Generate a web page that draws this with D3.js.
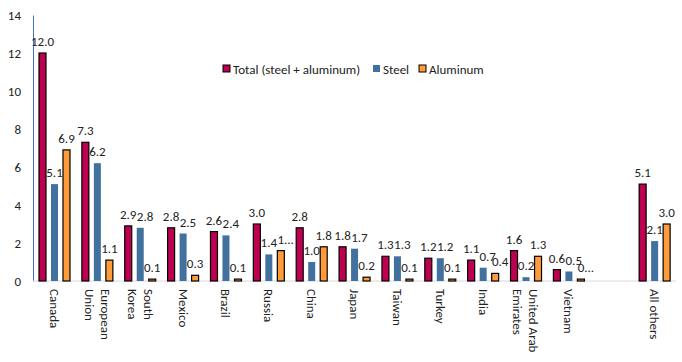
<!DOCTYPE html>
<html>
<head>
<meta charset="utf-8">
<script src="https://cdn.jsdelivr.net/npm/d3@7"></script>
<style>
  body { margin: 0; background: #fff; }
  text { font-family: Carlito, Lato, "Liberation Sans", sans-serif; fill: #222; }
</style>
</head>
<body>
<div id="chart"></div>
<script>
const W = 682, H = 362
const MARGIN = { TOP: 15, BOTTOM: 81, LEFT: 33, RIGHT: 6 }
const FS = 13

// categories (the blank one is the empty slot before "All others")
const categories = ['Canada', 'European Union', 'South Korea', 'Mexico', 'Brazil', 'Russia',
    'China', 'Japan', 'Taiwan', 'Turkey', 'India', 'United Arab Emirates', 'Vietnam', '', 'All others']
const catLines = [['Canada'], ['European', 'Union'], ['South', 'Korea'], ['Mexico'], ['Brazil'], ['Russia'],
    ['China'], ['Japan'], ['Taiwan'], ['Turkey'], ['India'], ['United Arab', 'Emirates'], ['Vietnam'], [], ['All others']]

const total    = [12.0, 7.3, 2.9, 2.8, 2.6, 3.0, 2.8, 1.8, 1.3, 1.2, 1.1, 1.6, 0.6, null, 5.1]
const steel    = [5.1, 6.2, 2.8, 2.5, 2.4, 1.4, 1.0, 1.7, 1.3, 1.2, 0.7, 0.2, 0.5, null, 2.1]
const aluminum = [6.9, 1.1, 0.1, 0.3, 0.1, 1.6, 1.8, 0.2, 0.1, 0.1, 0.4, 1.3, 0.1, null, 3.0]
// labels the reference cut short
const truncated = { 'Russia|aluminum': '1...', 'Vietnam|aluminum': '0...' }

const yTicks = [0, 2, 4, 6, 8, 10, 12, 14]

const series = [
    { key: 'total', name: 'Total (steel + aluminum)', values: total, color: '#BE0051', stroke: '#000' },
    { key: 'steel', name: 'Steel', values: steel, color: '#41729F', stroke: 'none' },
    { key: 'aluminum', name: 'Aluminum', values: aluminum, color: '#FF9B3A', stroke: '#000' },
]

const svg = d3.select('#chart').append('svg')
    .attr('width', W)
    .attr('height', H)

const x = d3.scaleBand()
    .domain(categories.map((c, i) => i))
    .range([MARGIN.LEFT, W - MARGIN.RIGHT])

const x1 = d3.scaleBand()
    .domain(series.map(s => s.key))
    .range([6, 37])
    .paddingInner(5 / 12)

const y = d3.scaleLinear()
    .domain([0, 14])
    .range([H - MARGIN.BOTTOM, MARGIN.TOP])

// y axis
const yAxis = svg.append('g')
    .attr('transform', `translate(${MARGIN.LEFT},0)`)
    .call(d3.axisLeft(y).tickValues(yTicks).tickSize(0).tickPadding(12).tickFormat(d3.format('d')))
yAxis.select('.domain').attr('stroke', '#4472C4')
yAxis.selectAll('text').attr('font-size', FS).style('font-family', 'Carlito, Lato, sans-serif').attr('fill', '#222')

// x axis line
svg.append('line')
    .attr('x1', MARGIN.LEFT).attr('x2', W - MARGIN.RIGHT)
    .attr('y1', y(0)).attr('y2', y(0))
    .attr('stroke', '#d9d9d9')

// bars
const groups = svg.selectAll('g.cat')
    .data(categories.map((c, i) => i).filter(i => categories[i] !== ''))
    .enter().append('g')
    .attr('class', 'cat')
    .attr('transform', i => `translate(${x(i)},0)`)

groups.selectAll('rect')
    .data(i => series.map(s => ({ s, v: s.values[i] })))
    .enter().append('rect')
    .attr('x', d => x1(d.s.key))
    .attr('width', x1.bandwidth())
    .attr('y', d => y(d.v))
    .attr('height', d => y(0) - y(d.v))
    .attr('fill', d => d.s.color)
    .attr('stroke', d => d.s.stroke)
    .attr('stroke-width', 1.2)

// value labels
groups.each(function (i) {
    const g = d3.select(this)
    let prev = null
    series.forEach(s => {
        const v = s.values[i]
        const t = g.append('text')
            .attr('class', 'val')
            .attr('x', x1(s.key) + x1.bandwidth() / 2)
            .attr('y', y(v) - 7)
            .attr('text-anchor', 'middle')
            .attr('font-size', FS)
            .text(truncated[categories[i] + '|' + s.key] || d3.format('.1f')(v))
        // nudge right a little when crowding the previous label (like the source does)
        let b = t.node().getBBox()
        if (prev && b.x < prev.x + prev.width && Math.abs(b.y - prev.y) < b.height) {
            const shift = Math.min(prev.x + prev.width - b.x, 5)
            t.attr('x', +t.attr('x') + shift)
            b = t.node().getBBox()
        }
        prev = b
    })
})

// category labels, rotated
catLines.forEach((lines, i) => {
    if (!lines.length) return
    const t = svg.append('text')
        .attr('transform', `translate(${x(i) + x.bandwidth() / 2},289) rotate(90)`)
        .attr('font-size', FS)
        .attr('text-anchor', 'start')
    const off = lines.length === 1 ? [0] : [-8, 8]
    lines.forEach((l, j) => {
        t.append('tspan')
            .attr('x', 0)
            .attr('y', off[j])
            .attr('dominant-baseline', 'central')
            .text(l)
    })
})

// legend
const legendX = [223, 373, 419]
series.forEach((s, i) => {
    svg.append('rect')
        .attr('x', legendX[i]).attr('y', 65)
        .attr('width', 7).attr('height', 7)
        .attr('fill', s.color)
        .attr('stroke', s.stroke)
        .attr('stroke-width', 1)
    svg.append('text')
        .attr('x', legendX[i] + 10).attr('y', 69)
        .attr('dominant-baseline', 'central')
        .attr('font-size', FS)
        .text(s.name)
})
</script>
</body>
</html>
